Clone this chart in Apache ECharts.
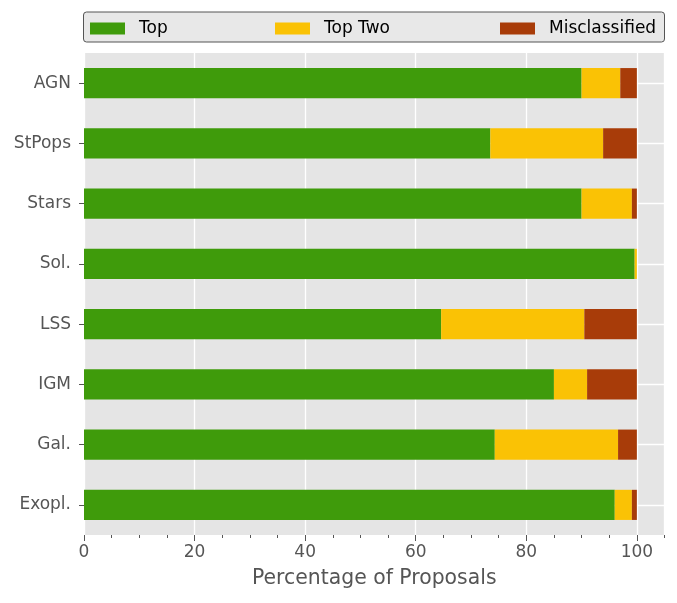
<!DOCTYPE html>
<html>
<head>
<meta charset="utf-8">
<title>Proposal classification</title>
<script src="https://cdn.jsdelivr.net/npm/echarts@6/dist/echarts.min.js"></script>
<style>
	html, body { margin: 0; padding: 0; background: #fff; }
	#chart { width: 677px; height: 603px; }
</style>
</head>
<body>
<div id="chart"></div>
<script>
// data (percent of proposals)
var categories = ['AGN', 'StPops', 'Stars', 'Sol.', 'LSS', 'IGM', 'Gal.', 'Exopl.'];
var topVals = [90.0, 73.5, 90.0, 99.6, 64.6, 85.0, 74.3, 96.0];
var topTwoVals = [7.0, 20.4, 9.1, 0.4, 25.9, 6.0, 22.3, 3.1];
var misVals = [3.0, 6.1, 0.9, 0.0, 9.5, 9.0, 3.4, 0.9];
var seriesNames = ['Top', 'Top Two', 'Misclassified'];
var colors = ['#3f9b0b', '#fac205', '#a83c09'];

var font = 'DejaVu Sans';
var textGray = '#555555';

function legendAt(left, name) {
	return {
		data: [name],
		left: left,
		top: 20,
		itemWidth: 35,
		itemHeight: 12,
		icon: 'rect',
		padding: 0,
		selectedMode: false,
		z: 5,
		textStyle: {
			fontFamily: font,
			fontSize: 17,
			color: '#000',
			padding: [0, 0, 0, 9]
		}
	};
}

function barSeries(i, values) {
	return {
		name: seriesNames[i],
		type: 'bar',
		stack: 'all',
		barWidth: '50%',
		itemStyle: {color: colors[i]},
		emphasis: {disabled: true},
		data: values
	};
}

var myChart = echarts.init(document.getElementById('chart'));
var option = {
	animation: false,
	backgroundColor: '#fff',
	graphic: [
		{
			type: 'rect',
			z: 1,
			shape: {x: 83.5, y: 12, width: 581, height: 30, r: 3},
			style: {fill: '#e8e8e8', stroke: '#555', lineWidth: 1}
		}
	],
	legend: [
		legendAt(90, 'Top'),
		legendAt(275, 'Top Two'),
		legendAt(500, 'Misclassified')
	],
	grid: {
		left: 84,
		right: 12.5,
		top: 53,
		bottom: 68,
		show: true,
		backgroundColor: '#e5e5e5',
		borderWidth: 0
	},
	xAxis: [
		{
			type: 'value',
			position: 'bottom',
			min: 0,
			max: 105,
			interval: 20,
			axisLine: {show: false},
			axisTick: {show: true, length: 6, lineStyle: {color: textGray}},
			axisLabel: {
				margin: 9.5,
				fontFamily: font,
				fontSize: 17,
				color: textGray,
				showMaxLabel: false,
				formatter: function (v) { return v % 20 === 0 ? String(v) : ''; }
			},
			splitLine: {show: true, lineStyle: {color: '#fff', width: 1.3}},
			name: 'Percentage of Proposals',
			nameLocation: 'middle',
			nameGap: 33.5,
			nameTextStyle: {fontFamily: font, fontSize: 20.4, color: textGray}
		},
		{
			// minor ticks every 5
			type: 'value',
			position: 'bottom',
			min: 0,
			max: 105,
			interval: 5,
			axisLine: {show: false},
			axisTick: {show: true, length: 3, lineStyle: {color: textGray}},
			axisLabel: {show: false},
			splitLine: {show: false}
		}
	],
	yAxis: {
		type: 'category',
		inverse: true,
		data: categories,
		axisLine: {show: false},
		axisTick: {show: true, alignWithLabel: true, length: 5, lineStyle: {color: textGray}},
		axisLabel: {margin: 13, fontFamily: font, fontSize: 17, color: textGray},
		splitLine: {show: true, alignWithLabel: true, lineStyle: {color: '#fff', width: 1.3}}
	},
	series: [
		barSeries(0, topVals),
		barSeries(1, topTwoVals),
		barSeries(2, misVals)
	]
};
myChart.setOption(option);
</script>
</body>
</html>
